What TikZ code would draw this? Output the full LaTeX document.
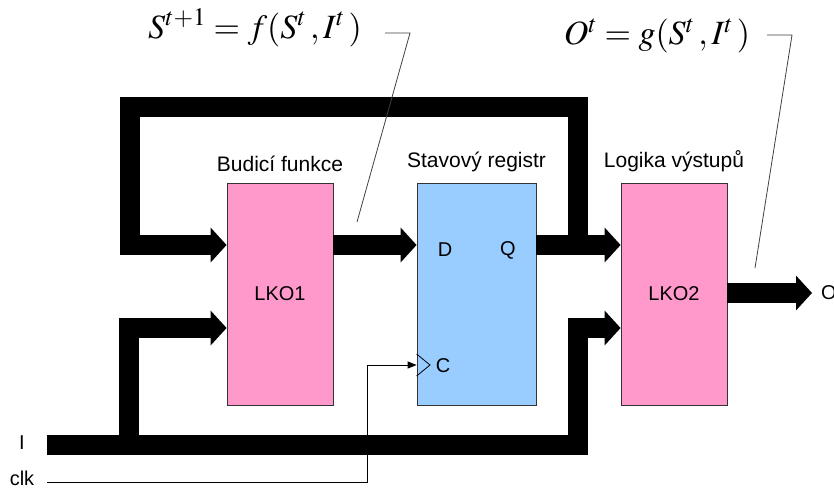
\documentclass[tikz,border=0pt]{standalone}
\usepackage{mathptmx}
\usepackage{fontspec}
\setsansfont{Liberation Sans}
\usetikzlibrary{arrows.meta,positioning}

\definecolor{lkopink}{HTML}{FF99CC}
\definecolor{regblue}{HTML}{99CCFF}

\tikzset{
    block/.style={draw=black!80, line width=0.8pt, minimum width=106pt, minimum height=222pt,
        font=\sffamily\fontsize{20}{24}\selectfont},
    blocktitle/.style={font=\sffamily\fontsize{21}{24}\selectfont, inner sep=2pt},
    pinlabel/.style={font=\sffamily\fontsize{20}{24}\selectfont, inner sep=0pt},
    bus/.style={line width=20pt, line join=miter},
    busarrow/.style={bus, -{Triangle[width=34pt,length=16pt]}},
    wire/.style={line width=1pt, -{Triangle[width=7pt,length=9pt]}},
    pointer/.style={draw=black!75, line width=0.8pt},
    formula/.style={font=\fontsize{34}{40}\selectfont, inner sep=0pt}
}

\begin{document}
\begin{tikzpicture}[x=1pt,y=-1pt]
    \useasboundingbox (0,0) rectangle (834,490);

    % the three blocks
    \node[block, fill=lkopink] (lko1) at (280,294) {LKO1};
    \node[block, fill=regblue, minimum width=119pt] (reg) at (476.5,294) {};
    \node[block, fill=lkopink] (lko2) at (674,294) {LKO2};

    \node[blocktitle, above=9pt of lko1] {Budicí funkce};
    \node[blocktitle, above=9pt of reg] {Stavový registr};
    \node[blocktitle, above=9pt of lko2] {Logika výstupů};

    % register pins
    \node[pinlabel] (pd) at (445,250) {D};
    \node[pinlabel] (pq) at (508,250) {Q};
    \node[pinlabel] (pc) at (443,366) {C};
    \draw[line width=0.8pt] (reg.west |- 0,354) -- (430,365) -- (reg.west |- 0,376);

    % state bus and feedback loop
    \draw[busarrow] (lko1.east |- 0,245) -- (reg.west |- 0,245);
    \draw[busarrow] (reg.east |- 0,245) -- (lko2.west |- 0,245);
    \draw[busarrow] (578,255) -- (578,107) -- (130,107) -- (130,245) -- (lko1.west |- 0,245);

    % input bus
    \node[pinlabel] (in) at (22,443) {I};
    \draw[busarrow] (47,445) -- (578,445) -- (578,328) -- (lko2.west |- 0,328);
    \draw[busarrow] (129,445) -- (129,328) -- (lko1.west |- 0,328);

    % clock
    \node[pinlabel] (clk) at (22,478) {clk};
    \draw[wire] (47,482) -- (367,482) -- (367,365) -- (reg.west |- 0,365);

    % output
    \coordinate (outend) at (812,293);
    \draw[busarrow] (lko2.east |- outend) -- (outend);
    \node[pinlabel, anchor=west] (out) at (821,293) {O};

    % equations with pointers
    \node[formula] (eqf) at (255,28) {$S^{t+1} = f(S^t\,,I^t\,)$};
    \node[formula] (eqg) at (657,36) {$O^t = g(S^t\,,I^t\,)$};
    \draw[pointer] (385,33) -- (410,33) -- (357,222);
    \draw[pointer] (767,35) -- (792,35) -- (755,268);
\end{tikzpicture}
\end{document}
